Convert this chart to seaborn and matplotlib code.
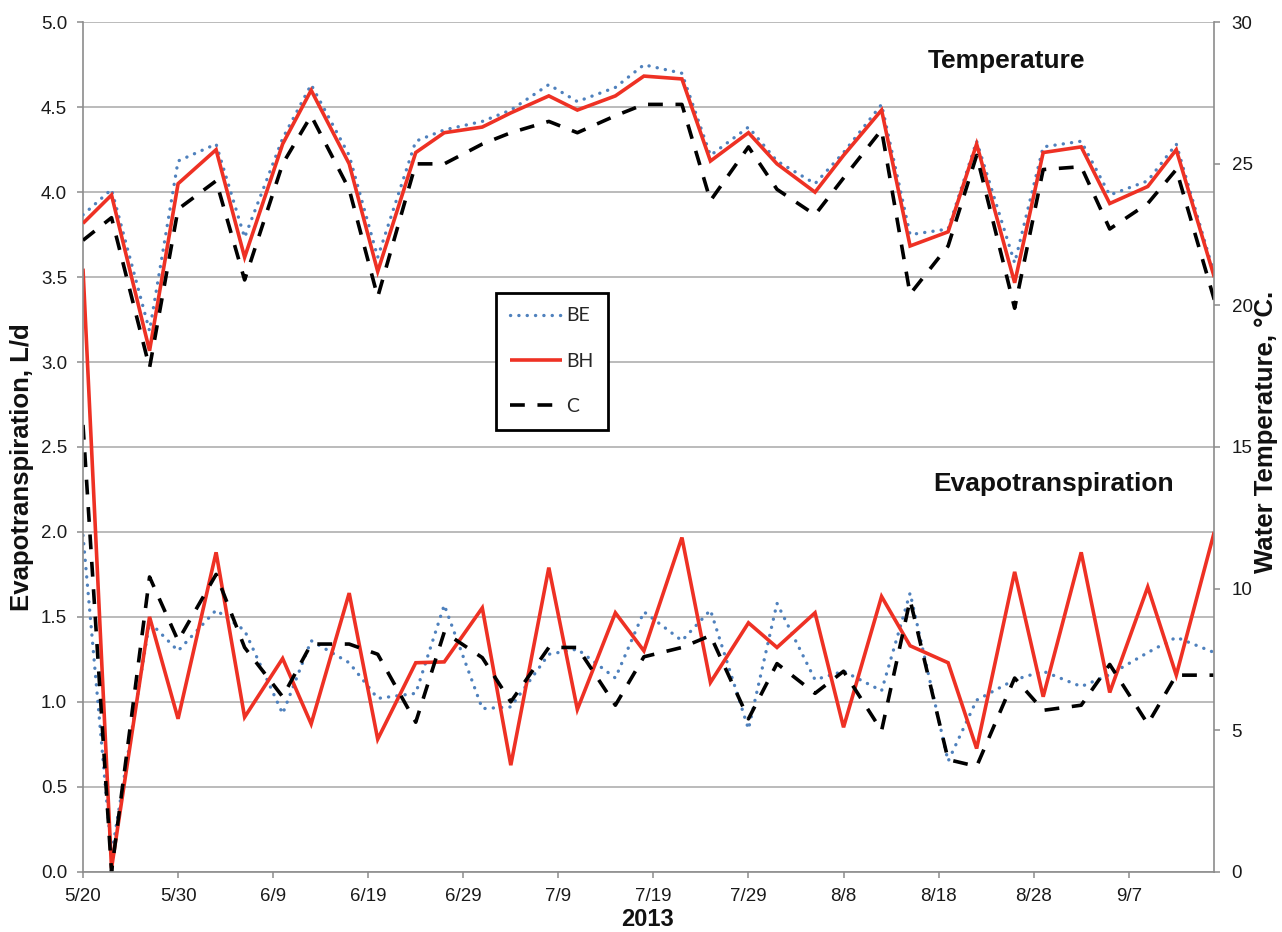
import matplotlib
matplotlib.use("Agg")
import matplotlib.pyplot as plt
import seaborn as sns
import pandas as pd
from matplotlib.ticker import MultipleLocator, FormatStrFormatter

# ---------------- data ----------------
dates = ["2013-05-20", "2013-05-23", "2013-05-27", "2013-05-30", "2013-06-03", "2013-06-06",
         "2013-06-10", "2013-06-13", "2013-06-17", "2013-06-20", "2013-06-24", "2013-06-27",
         "2013-07-01", "2013-07-04", "2013-07-08", "2013-07-11", "2013-07-15", "2013-07-18",
         "2013-07-22", "2013-07-25", "2013-07-29", "2013-08-01", "2013-08-05", "2013-08-08",
         "2013-08-12", "2013-08-15", "2013-08-19", "2013-08-22", "2013-08-26", "2013-08-29",
         "2013-09-02", "2013-09-05", "2013-09-09", "2013-09-12", "2013-09-16"]

# Evapotranspiration, L/d
et_BE = [1.98, 0.10, 1.47, 1.30, 1.54, 1.42, 0.93, 1.36, 1.23, 1.02, 1.05,
         1.57, 0.96, 0.97, 1.28, 1.31, 1.14, 1.53, 1.36, 1.54, 0.84, 1.58, 1.13, 1.18,
         1.065, 1.64, 0.65, 1.01, 1.13, 1.18, 1.09, 1.16, 1.29, 1.38, 1.29]
et_BH = [3.55, 0.02, 1.50, 0.90, 1.88, 0.91, 1.255, 0.87, 1.64, 0.78, 1.23,
         1.235, 1.553, 0.627, 1.79, 0.955, 1.524, 1.30, 1.967, 1.114, 1.465, 1.32, 1.524, 0.85,
         1.62, 1.33, 1.23, 0.725, 1.765, 1.03, 1.88, 1.055, 1.676, 1.157, 2.00]
et_C = [2.63, 0.00, 1.735, 1.36, 1.75, 1.32, 1.03, 1.34, 1.34, 1.28, 0.88,
        1.41, 1.26, 1.00, 1.32, 1.32, 0.98, 1.265, 1.32, 1.39, 0.90, 1.225, 1.05, 1.18,
        0.83, 1.60, 0.66, 0.62, 1.14, 0.95, 0.98, 1.22, 0.87, 1.157, 1.157]

# Water temperature, degC
t_BE = [23.2, 24.1, 19.1, 25.1, 25.7, 22.4, 25.9, 27.8, 25.3, 21.7, 25.8,
        26.2, 26.5, 26.9, 27.8, 27.2, 27.7, 28.5, 28.2, 25.3, 26.3, 25.1, 24.3, 25.4,
        27.1, 22.5, 22.7, 25.8, 21.5, 25.6, 25.8, 23.9, 24.4, 25.7, 21.1]
t_BH = [22.9, 23.9, 18.4, 24.3, 25.5, 21.7, 25.7, 27.6, 25.0, 21.2, 25.4,
        26.1, 26.3, 26.8, 27.4, 26.9, 27.4, 28.1, 28.0, 25.1, 26.1, 25.0, 24.0, 25.3,
        26.9, 22.1, 22.6, 25.7, 20.8, 25.4, 25.6, 23.6, 24.2, 25.5, 21.0]
t_C = [22.3, 23.1, 17.8, 23.4, 24.4, 20.9, 25.0, 26.7, 24.1, 20.3, 25.0,
       25.0, 25.7, 26.1, 26.5, 26.1, 26.7, 27.1, 27.1, 23.7, 25.6, 24.1, 23.2, 24.5,
       26.2, 20.4, 22.1, 25.3, 19.9, 24.8, 24.9, 22.7, 23.6, 24.8, 20.2]

series_names = ["BE", "BH", "C"]
tick_dates = ["2013-05-20", "2013-05-30", "2013-06-09", "2013-06-19", "2013-06-29", "2013-07-09",
              "2013-07-19", "2013-07-29", "2013-08-08", "2013-08-18", "2013-08-28", "2013-09-07"]
tick_labels = ["5/20", "5/30", "6/9", "6/19", "6/29", "7/9", "7/19", "7/29", "8/8", "8/18", "8/28", "9/7"]

# ---------------- style ----------------
sns.set_theme(style="white")
plt.rcParams["font.family"] = ["Liberation Sans", "DejaVu Sans"]

GRAY = "#8c8c8c"
GRID = "#a8a8a8"
styles = {
    "BE": dict(color="#4f81bd", lw=2.4, dash=(0.05, 2.45), cap="round"),
    "BH": dict(color="#ee3124", lw=2.6, dash=None, cap="butt"),
    "C": dict(color="#000000", lw=2.6, dash=(4.1, 3.5), cap="butt"),
}

x = pd.to_datetime(dates)
fig = plt.figure(figsize=(12.82, 9.32), dpi=100)
ax = fig.add_axes([83 / 1282, 1 - 871.7 / 932, (1214.3 - 83) / 1282, (871.7 - 22.3) / 932])
ax2 = ax.twinx()

def draw(axis, yvals, name):
    st = styles[name]
    sns.lineplot(x=x, y=yvals, ax=axis, color=st["color"], linewidth=st["lw"],
                 estimator=None, sort=False, label=name)
    line = axis.get_lines()[-1]
    if st["dash"] is not None:
        line.set_linestyle((0, st["dash"]))
    line.set_dash_capstyle(st["cap"])
    line.set_solid_capstyle("butt")
    line.set_solid_joinstyle("miter")
    return line

for name, vals in zip(series_names, [et_BE, et_BH, et_C]):
    draw(ax, vals, name)
handles = []
for name, vals in zip(series_names, [t_BE, t_BH, t_C]):
    handles.append(draw(ax2, vals, name))

for a in (ax, ax2):
    lg = a.get_legend()
    if lg is not None:
        lg.remove()

# axes ranges
ax.set_xlim(pd.Timestamp("2013-05-20"), pd.Timestamp("2013-09-16"))
ax.set_ylim(0, 5)
ax2.set_ylim(0, 30)
ax.yaxis.set_major_locator(MultipleLocator(0.5))
ax.yaxis.set_major_formatter(FormatStrFormatter("%.1f"))
ax2.yaxis.set_major_locator(MultipleLocator(5))
ax.set_xticks(pd.to_datetime(tick_dates))
ax.set_xticklabels(tick_labels)

ax.set_xlabel("")
ax.set_ylabel("")
ax2.set_ylabel("")

# grid
ax.set_axisbelow(True)
ax.yaxis.grid(True, color=GRID, linewidth=1.1)
ax.xaxis.grid(False)
ax2.grid(False)

# spines
ax.spines["top"].set_visible(False)
ax2.spines["top"].set_visible(False)
for s in ("left", "bottom"):
    ax.spines[s].set_color(GRAY)
    ax.spines[s].set_linewidth(1.2)
    ax2.spines[s].set_visible(False)
ax.spines["right"].set_visible(False)
ax2.spines["right"].set_color(GRAY)
ax2.spines["right"].set_linewidth(1.2)

ax.tick_params(axis="both", which="major", direction="out", length=4.5, width=1.1,
               color=GRAY, labelsize=13.5, labelcolor="#1a1a1a", pad=7,
               bottom=True, left=True, top=False, right=False)
ax2.tick_params(axis="y", which="major", direction="out", length=4.5, width=1.1,
                color=GRAY, labelsize=13.5, labelcolor="#1a1a1a", pad=8,
                right=True, left=False)

# annotations
fig.text(1006.5 / 1282, 1 - 68.3 / 932, "Temperature", ha="center", va="baseline",
         fontsize=19, fontweight="bold", color="#111111")
fig.text(1053.5 / 1282, 1 - 491 / 932, "Evapotranspiration", ha="center", va="baseline",
         fontsize=19, fontweight="bold", color="#111111")

# axis labels
fig.text(22 / 1282, 1 - 467 / 932, "Evapotranspiration, L/d", rotation=90,
         ha="center", va="center", fontsize=18.5, fontweight="bold", color="#111111")
fig.text(1266 / 1282, 1 - 432 / 932, "Water Temperature, °C.", rotation=90,
         ha="center", va="center", fontsize=18.5, fontweight="bold", color="#111111")
fig.text(648 / 1282, 1 - 931 / 932, "2013", ha="center", va="bottom",
         fontsize=17, fontweight="bold", color="#111111")

# legend
leg = ax2.legend(handles, series_names, loc="upper left",
                 bbox_to_anchor=(496 / 1282, 1 - 293 / 932), bbox_transform=fig.transFigure,
                 frameon=True, fancybox=False, framealpha=1, edgecolor="black",
                 prop={"family": ["Lato", "DejaVu Sans"], "size": 14},
                 borderpad=0.74, labelspacing=1.46, handlelength=2.67, handletextpad=0.2,
                 borderaxespad=0)
leg.get_frame().set_linewidth(2.0)

fig.savefig("out.png", dpi=100)
